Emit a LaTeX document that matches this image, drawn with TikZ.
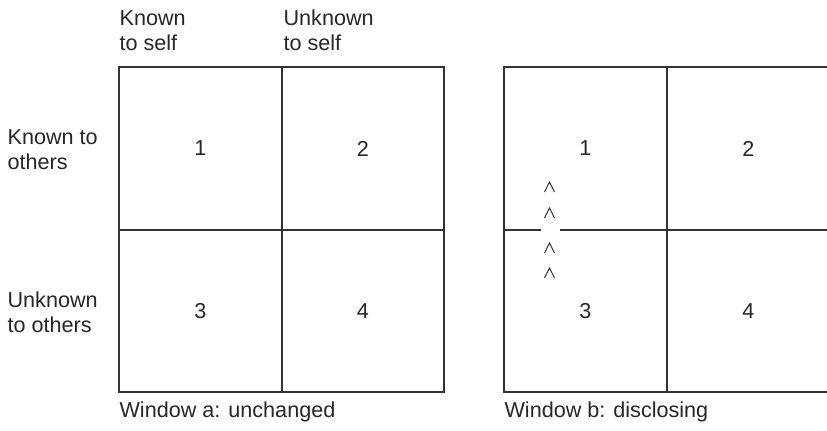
\documentclass[tikz,border=0pt]{standalone}
\usepackage{fontspec}
\setmainfont{Liberation Sans}
\usetikzlibrary{positioning}

\begin{document}
\begin{tikzpicture}[x=0.5pt,y=-0.5pt,line width=0.6pt,
		font=\fontsize{10.8}{12.5}\selectfont,text=black!85,
		lbl/.style={align=left,anchor=west,inner sep=0pt},
		num/.style={inner sep=0pt},
		pane/.style={draw=black!80}]
	\useasboundingbox (0,0) rectangle (827,430);
	\clip (0,0) rectangle (827,430);
	% window a
	\draw[pane] (119,67) rectangle (444,392);
	\draw[pane] (282,67) -- (282,392);
	\draw[pane] (119,230) -- (444,230);
	\node[num] (a1) at (200.5,148.5) {1};
	\node[num] (a2) at (363,148.5) {2};
	\node[num] (a3) at (200.5,311) {3};
	\node[num] (a4) at (363,311) {4};
	% window b, the divider is opened up
	\draw[pane] (504,67) rectangle (830,392);
	\draw[pane] (667,67) -- (667,392);
	\draw[pane] (504,230) -- (541,230);
	\draw[pane] (560,230) -- (830,230);
	\node[num] (b1) at (585.5,148.5) {1};
	\node[num] (b2) at (748.5,148.5) {2};
	\node[num] (b3) at (585.5,311) {3};
	\node[num] (b4) at (748.5,311) {4};
	\foreach \y in {187,213,248,273}
		\draw[black!80,line width=0.5pt] (544.5,\y+5) -- (549.5,\y-5) -- (554.5,\y+5);
	% headings
	\node[lbl] (kself) at (119,30.5) {Known\\to self};
	\node[lbl] (uself) at (283,30.5) {Unknown\\to self};
	\node[lbl] (kothers) at (7,149.5) {Known to\\others};
	\node[lbl] (uothers) at (7,312.5) {Unknown\\to others};
	\node[lbl] (capa) at (119,412) {Window a: unchanged};
	\node[lbl] (capb) at (504,412) {Window b: disclosing};
\end{tikzpicture}
\end{document}
